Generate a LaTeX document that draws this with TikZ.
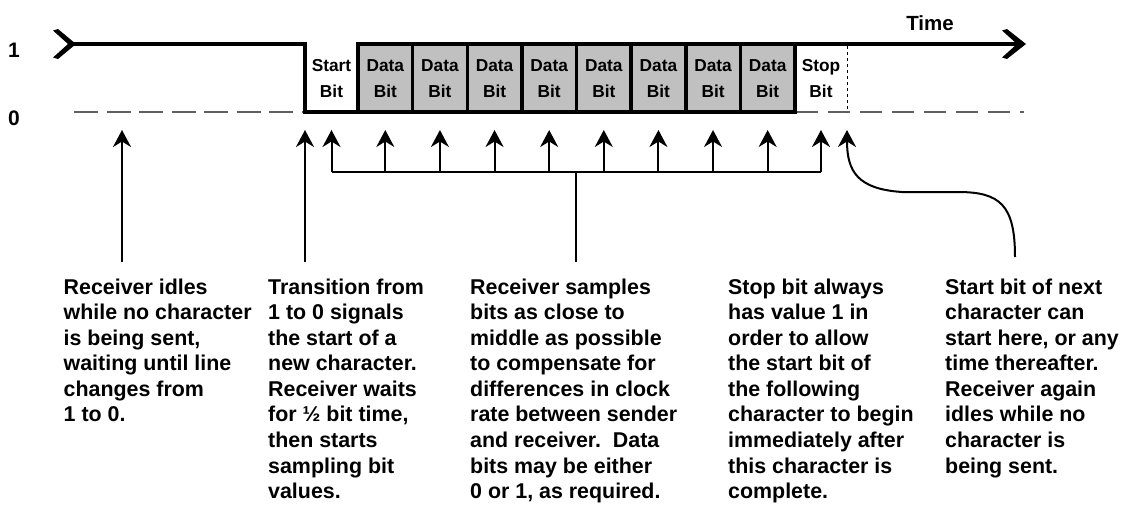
\documentclass[tikz,border=0pt]{standalone}
\usepackage{fontspec}
\setmainfont{Liberation Sans}
\usetikzlibrary{arrows.meta}
\definecolor{cellgray}{RGB}{192,192,192}
\definecolor{dashgray}{RGB}{96,96,96}
\begin{document}
\begin{tikzpicture}[x=1pt,y=-1pt,
  sig/.style={line width=4pt,line join=miter,line cap=rect},
  zeroline/.style={line width=1.6pt,dashgray,dash pattern=on 24pt off 8.5pt},
  upar/.style={line width=2pt,-{Stealth[length=17pt,width=18pt,inset=5.5pt]}},
  plain/.style={line width=2pt},
  cell/.style={fill=cellgray,draw=none},
  bitlbl/.style={font=\fontsize{17.3}{26}\selectfont\bfseries,align=center,anchor=north,inner sep=0pt},
  note/.style={font=\fontsize{21.4}{25.55}\selectfont\bfseries,align=left,anchor=north west,inner sep=0pt},
  lvl/.style={font=\fontsize{21}{25}\selectfont\bfseries,anchor=base west,inner sep=0pt},
  chev/.style={fill=black,draw=none}]
\useasboundingbox (0,0) rectangle (1122,504);

% gray data cells
\fill[cellgray] (358,44) rectangle (795,112);

% dashed zero level
\draw[zeroline] (74,112) -- (305,112);
\draw[zeroline,dash pattern=on 22pt off 10pt] (796,112) -- (1024,112);
% dotted end of stop bit
\draw[line width=1pt,dash pattern=on 3pt off 3pt] (847,46) -- (847,112);

% signal
\draw[sig] (73,44) -- (305,44) -- (305,112) -- (795,112) -- (795,44);
\draw[sig] (358,112) -- (358,44) -- (1016,44);
\foreach \k in {1,...,7}{
  \draw[line width=3.5pt] (358+54.625*\k,44) -- (358+54.625*\k,112);
}
% arrow chevrons
\fill[chev] (53,30.5) -- (58,29) -- (76,44) -- (58,59) -- (53,57.5) -- (68,44) -- cycle;
\fill[chev] (1002,30.5) -- (1007,29) -- (1026,44) -- (1007,59) -- (1002,57.5) -- (1017,44) -- cycle;

% labels
\node[lvl] (one) at (8,57) {1};
\node[lvl] (zero) at (8,125) {0};
\node[font=\fontsize{20.5}{24}\selectfont\bfseries,anchor=base,inner sep=0pt] (time) at (930,30) {Time};

\node[bitlbl] (start) at (331.5,59) {Start\\Bit};
\foreach \k in {0,...,7}{
  \node[bitlbl] (d\k) at (385.3+54.625*\k,59.5) {Data\\Bit};
}
\node[bitlbl] (stop) at (821,59) {Stop\\Bit};

% coordinates
\coordinate (idleT) at (122,130);
\coordinate (idleB) at (122,262);
\coordinate (transT) at (305,130);
\coordinate (transB) at (305,262);
\coordinate (brL) at (331.5,172);
\coordinate (brR) at (821,172);
\coordinate (brM) at (576,172);
\coordinate (brB) at (576,262);
\coordinate (nextT) at (847,130);
\coordinate (nextB) at (1015,257);

\draw[upar] (idleB) -- (idleT);
\draw[upar] (transB) -- (transT);
\draw[plain] (brL) -- (brR);
\draw[plain] (brM) -- (brB);
\draw[upar] (brL) -- (331.5,130);
\foreach \k in {0,...,7}{
  \draw[upar] (385.3+54.625*\k,172) -- (385.3+54.625*\k,130);
}
\draw[upar] (brR) -- (821,130);
\draw[upar] (nextB) .. controls (1015,205) and (1000,192) .. (958,192)
  -- (902,192) .. controls (858,189) and (847,172) .. (nextT);

% notes
\node[note] (n1) at (63.5,278.5) {Receiver idles\\while no character\\is being sent,\\waiting until line\\changes from\\1 to 0.};
\node[note] (n2) at (268,278.5) {Transition from\\1 to 0 signals\\the start of a\\new character.\\Receiver waits\\for ½ bit time,\\then starts\\sampling bit\\values.};
\node[note] (n3) at (470,278.5) {Receiver samples\\bits as close to\\middle as possible\\to compensate for\\differences in clock\\rate between sender\\and receiver.~~Data\\bits may be either\\0 or 1, as required.};
\node[note] (n4) at (728,278.5) {Stop bit always\\has value 1 in\\order to allow\\the start bit of\\the following\\character to begin\\immediately after\\this character is\\complete.};
\node[note] (n5) at (945,278.5) {Start bit of next\\character can\\start here, or any\\time thereafter.\\Receiver again\\idles while no\\character is\\being sent.};
\end{tikzpicture}
\end{document}
